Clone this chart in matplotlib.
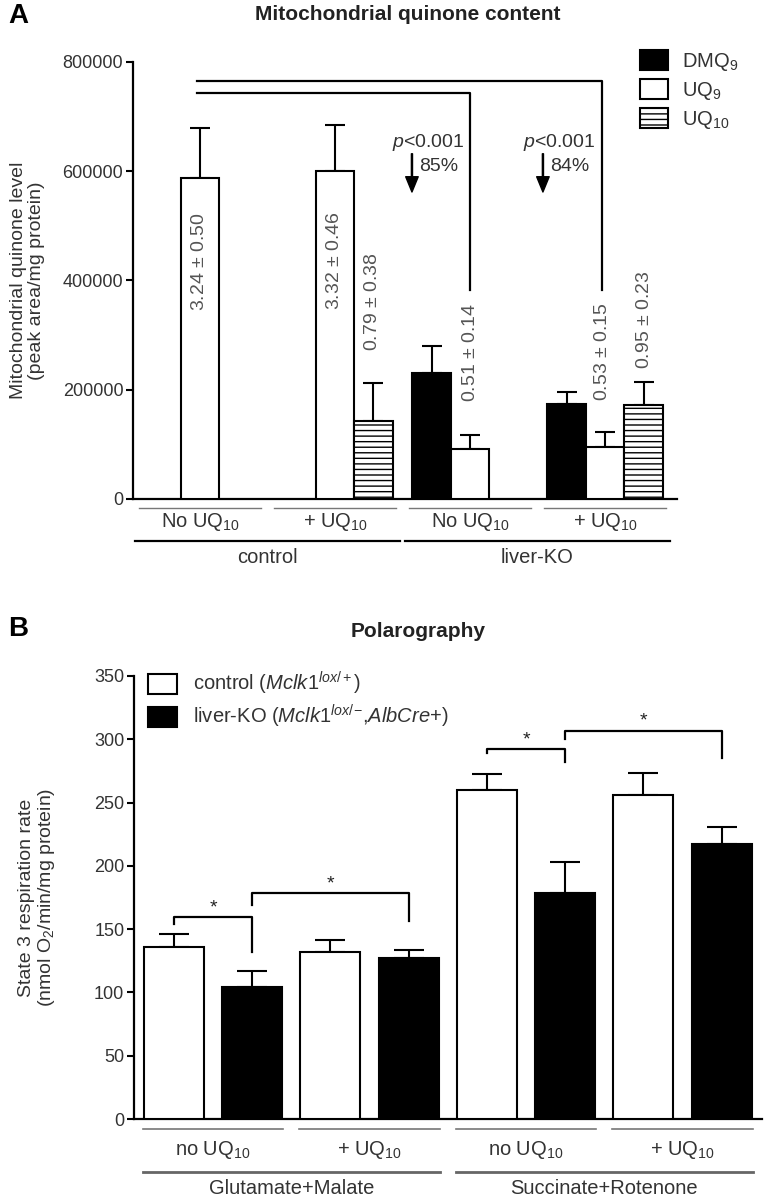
import numpy as np
import matplotlib
matplotlib.use('Agg')
import matplotlib.pyplot as plt
from matplotlib.patches import Patch

FONT = 'Liberation Sans'
plt.rcParams['font.family'] = [FONT, 'DejaVu Sans']
plt.rcParams['mathtext.fontset'] = 'custom'
plt.rcParams['mathtext.rm'] = FONT
plt.rcParams['mathtext.it'] = FONT + ':italic'
plt.rcParams['mathtext.bf'] = FONT + ':bold'
plt.rcParams['hatch.linewidth'] = 1.0

TXT = '#333333'

# Panel A: mitochondrial quinone content (peak area / mg protein)
groups_a = ['No UQ$_{10}$', '+ UQ$_{10}$', 'No UQ$_{10}$', '+ UQ$_{10}$']
genotypes_a = ['control', 'liver-KO']
dmq9 = [np.nan, np.nan, 230700, 174000]
dmq9_err = [np.nan, np.nan, 49400, 22000]
uq9 = [587600, 601000, 91000, 95700]
uq9_err = [91000, 83700, 26000, 27500]
uq10 = [np.nan, 143300, np.nan, 172000]
uq10_err = [np.nan, 68500, np.nan, 42700]
value_labels = ['3.24 $\\pm$ 0.50', '3.32 $\\pm$ 0.46', '0.79 $\\pm$ 0.38',
                '0.51 $\\pm$ 0.14', '0.53 $\\pm$ 0.15', '0.95 $\\pm$ 0.23']

# Panel B: state 3 respiration rate (nmol O2/min/mg protein)
groups_b = ['no UQ$_{10}$', '+ UQ$_{10}$', 'no UQ$_{10}$', '+ UQ$_{10}$']
substrates_b = ['Glutamate+Malate', 'Succinate+Rotenone']
control = [135.6, 131.7, 259.6, 256.0]
control_err = [10.4, 9.7, 13.2, 17.6]
ko = [104.0, 127.4, 178.3, 217.0]
ko_err = [13.0, 6.1, 24.7, 13.6]

fig = plt.figure(figsize=(7.66, 12), dpi=100)


def style_axis(ax):
    for s in ['top', 'right']:
        ax.spines[s].set_visible(False)
    for s in ['left', 'bottom']:
        ax.spines[s].set_linewidth(1.6)
    ax.tick_params(axis='y', length=5, width=1.5, labelsize=13, labelcolor=TXT, pad=2)
    ax.set_xticks([])


# ---------------- Panel A ----------------
axA = fig.add_axes([133 / 766, 1 - 499 / 1200, 544 / 766, 437 / 1200])
style_axis(axA)
x = np.arange(len(groups_a))
w = 0.285
err_kw = dict(fmt='none', ecolor='black', elinewidth=1.5, capthick=1.5, capsize=7)
for off, vals, errs, fc, hatch in [(-w, dmq9, dmq9_err, 'black', None),
                                   (0, uq9, uq9_err, 'white', None),
                                   (w, uq10, uq10_err, 'white', '---')]:
    axA.bar(x + off, vals, w, color=fc, edgecolor='black', linewidth=1.5, hatch=hatch, zorder=3)
    axA.errorbar(x + off, vals, yerr=[np.zeros(len(x)), errs], zorder=2, **err_kw)

axA.set_xlim(-0.496, 3.533)
axA.set_ylim(0, 800000)
axA.set_yticks([0, 200000, 400000, 600000, 800000])
axA.set_yticklabels(['0', '200000', '400000', '600000', '800000'])
axA.set_ylabel('Mitochondrial quinone level\n(peak area/mg protein)', fontsize=14, color=TXT,
               linespacing=1.1)
axA.yaxis.set_label_coords(-0.162, 0.5)

# value labels (rotated)
lab_pos = [(0, 434000), (1, 437000), (1.28, 362000), (2.0, 269000), (2.98, 269000), (3.29, 328000)]
for (px, py), t in zip(lab_pos, value_labels):
    axA.text(px, py, t, rotation=90, ha='center', va='center', fontsize=14, color='#555555')

# significance brackets: from control UQ9 to liver-KO UQ9
for x_end, y_top in [(2.98, 765200), (2.0, 742700)]:
    axA.plot([-0.02, x_end, x_end], [y_top, y_top, 382600], color='black', lw=1.6,
             clip_on=False)
for xp, pct in [(1.57, '85%'), (2.54, '84%')]:
    axA.annotate('', xy=(xp, 562000), xytext=(xp, 632000),
                 arrowprops=dict(facecolor='black', edgecolor='black', width=0.8,
                                 headwidth=9, headlength=11))
    axA.text(xp + 0.39, 653500, '$p$<0.001', ha='right', va='center', fontsize=14, color=TXT)
    axA.text(xp + 0.05, 607800, pct, ha='left', va='center', fontsize=14, color=TXT)

# group labels
tr = axA.get_xaxis_transform()
for i, g in enumerate(groups_a):
    axA.plot([i - 0.45, i + 0.45], [-0.021, -0.021], transform=tr, color='#777777', lw=1.0,
             clip_on=False)
    axA.text(i, -0.053, g, transform=tr, ha='center', va='center', fontsize=14.5, color=TXT)
for j, g in enumerate(genotypes_a):
    axA.plot([2 * j - 0.48, 2 * j + 1.48], [-0.096, -0.096], transform=tr, color='black',
             lw=1.6, clip_on=False)
    axA.text(2 * j + 0.5, -0.135, g, transform=tr, ha='center', va='center', fontsize=14.5,
             color=TXT)

legA = [Patch(facecolor='black', edgecolor='black', lw=1.5, label='DMQ$_9$'),
        Patch(facecolor='white', edgecolor='black', lw=1.5, label='UQ$_9$'),
        Patch(facecolor='white', edgecolor='black', lw=1.5, hatch='---', label='UQ$_{10}$')]
fig.legend(handles=legA, loc='upper left', bbox_to_anchor=(640 / 766, 1 - 50 / 1200),
           frameon=False, fontsize=14.5, handlelength=1.4, handleheight=1.15,
           handletextpad=0.7, labelspacing=0.3, borderpad=0, borderaxespad=0,
           labelcolor=TXT)

fig.text(8 / 766, 1 - 16 / 1200, 'A', fontsize=20, fontweight='bold', ha='left', va='center')
fig.text(408 / 766, 1 - 15 / 1200, 'Mitochondrial quinone content', fontsize=15,
         fontweight='bold', ha='center', va='center', color='#222222')

# ---------------- Panel B ----------------
axB = fig.add_axes([134 / 766, 1 - 1119 / 1200, 628 / 766, 443 / 1200])
style_axis(axB)
xb = np.arange(len(groups_b))
wb = 0.383
err_kw_b = dict(fmt='none', ecolor='black', elinewidth=1.5, capthick=1.5, capsize=11)
axB.bar(xb - 0.25, control, wb, color='white', edgecolor='black', linewidth=1.5, zorder=3)
axB.bar(xb + 0.25, ko, wb, color='black', edgecolor='black', linewidth=1.5, zorder=3)
axB.errorbar(xb - 0.25, control, yerr=[np.zeros(4), control_err], zorder=2, **err_kw_b)
axB.errorbar(xb + 0.25, ko, yerr=[np.zeros(4), ko_err], zorder=2, **err_kw_b)
axB.set_xlim(-0.505, 3.508)
axB.set_ylim(0, 350)
axB.set_yticks(np.arange(0, 351, 50))
axB.set_ylabel('State 3 respiration rate\n(nmol O$_2$/min/mg protein)', fontsize=14,
               color=TXT, linespacing=1.1)
axB.yaxis.set_label_coords(-0.122, 0.5)

# brackets: x1, x2, y top, left end, right end
brackets = [(-0.25, 0.25, 159.3, 154, 132), (0.25, 1.25, 178.3, 169, 156.6),
            (1.75, 2.25, 292, 289, 281.7), (2.25, 3.25, 306.7, 300, 285)]
for x1, x2, yt, yl, yr in brackets:
    axB.plot([x1, x1, x2, x2], [yl, yt, yt, yr], color='black', lw=1.6, clip_on=False)
    axB.text((x1 + x2) / 2, yt + 1, '*', ha='center', va='bottom', fontsize=14, color='#222222')

trb = axB.get_xaxis_transform()
for i, g in enumerate(groups_b):
    axB.plot([i - 0.45, i + 0.45], [-0.023, -0.023], transform=trb, color='#777777', lw=1.2,
             clip_on=False)
    axB.text(i, -0.070, g, transform=trb, ha='center', va='center', fontsize=14.5, color=TXT)
for j, g in enumerate(substrates_b):
    axB.plot([2 * j - 0.45, 2 * j + 1.45], [-0.12, -0.12], transform=trb, color='#666666',
             lw=2.0, clip_on=False)
    axB.text(2 * j + 0.5, -0.156, g, transform=trb, ha='center', va='center', fontsize=14.5,
             color=TXT)

legB = [Patch(facecolor='white', edgecolor='black', lw=1.5,
              label='control ($\\mathit{Mclk1}^{\\mathit{lox/+}}$)'),
        Patch(facecolor='black', edgecolor='black', lw=1.5,
              label='liver-KO ($\\mathit{Mclk1}^{\\mathit{lox/}}$$^{\\mathit{-}}$,$\\mathit{AlbCre}$+)')]
fig.legend(handles=legB, loc='upper left', bbox_to_anchor=(148 / 766, 1 - 670 / 1200),
           frameon=False, fontsize=14.5, handlelength=1.45, handleheight=1.2,
           handletextpad=0.8, labelspacing=0.3, borderpad=0, borderaxespad=0,
           labelcolor=TXT)

fig.text(8 / 766, 1 - 629 / 1200, 'B', fontsize=20, fontweight='bold', ha='left', va='center')
fig.text(418 / 766, 1 - 632 / 1200, 'Polarography', fontsize=15, fontweight='bold',
         ha='center', va='center', color='#222222')

fig.savefig('out.png', dpi=100)
